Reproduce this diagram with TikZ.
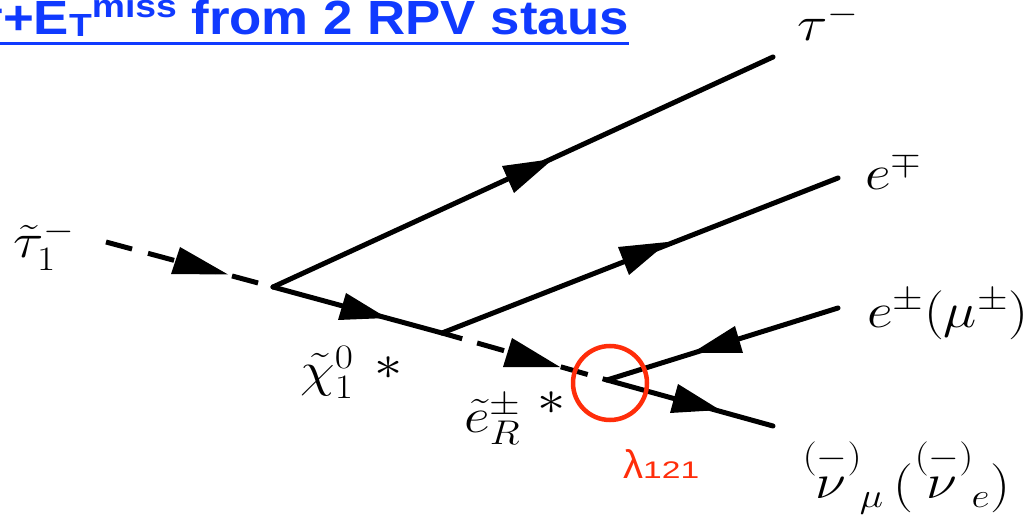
\RequirePackage{fix-cm}
\documentclass[tikz,border=0pt]{standalone}
\usepackage{graphicx}
\usepackage{fontspec}
\newfontfamily\titlesans{Liberation Sans}
\definecolor{titleblue}{RGB}{16,58,255}
\definecolor{rpvred}{RGB}{255,45,10}
\newcommand{\widetext}[1]{\scalebox{1.15}[1]{#1}}
\newcommand{\titlescript}[1]{\scalebox{1.06}[1]{\fontsize{32}{34}\selectfont #1}}
\tikzset{
  fermion/.style={line width=5pt, line cap=round},
  scalar/.style={line width=5pt, dash pattern=on 27pt off 16.5pt},
  arrowhead/.style={fill=black, draw=none},
  lbl/.style={inner sep=0pt, anchor=base west, font=\fontsize{49}{54}\selectfont},
}
\begin{document}
\begin{tikzpicture}[x=1pt,y=-1pt]
\useasboundingbox (0,0) rectangle (1031,521);
\clip (0,0) rectangle (1031,521);

% title
\node[anchor=base east, inner sep=0pt, text=titleblue,
      font=\titlesans\bfseries\fontsize{48}{52}\selectfont] (title) at (629,35)
  {\scalebox{1.1}[1]{τ+E\raisebox{-2pt}{\titlescript{T}}\raisebox{17pt}{\titlescript{miss}} from 2 RPV staus}};
\coordinate (ulA) at (0,44);
\draw[titleblue, line width=3pt] (ulA) -- (ulA -| title.east);

% vertices and end points
\coordinate (S0) at (106,242);
\coordinate (V1) at (273,287);
\coordinate (V2) at (442,333);
\coordinate (V3) at (607,380);
\coordinate (T)  at (773,57);
\coordinate (E1) at (838,178);
\coordinate (E2) at (838,308);
\coordinate (N)  at (773,426);

% lines
\draw[scalar] (S0) -- (V1);
\draw[fermion] (V1) -- (T);
\draw[fermion] (V1) -- (V2);
\draw[fermion] (V2) -- (E1);
\draw[line width=5pt, dash pattern=on 28pt off 15.5pt, dash phase=7pt] (V2) -- (V3);
\draw[fermion] (E2) -- (V3);
\draw[fermion] (V3) -- (N);

% arrowheads
\fill[arrowhead] (171,274) -- (180,247) -- (228,274.5) -- cycle;
\fill[arrowhead] (502,166) -- (514,193) -- (553,159) -- cycle;
\fill[arrowhead] (618,247) -- (629,275) -- (668,242) -- cycle;
\fill[arrowhead] (338,320) -- (346,293) -- (387,318) -- cycle;
\fill[arrowhead] (503,367) -- (512,338) -- (560,367) -- cycle;
\fill[arrowhead] (692,353) -- (735,326) -- (743,353) -- cycle;
\fill[arrowhead] (670,413) -- (678,384) -- (720,410) -- cycle;

% RPV vertex circle
\node[circle, draw=rpvred, line width=4.5pt, minimum size=74pt, inner sep=0pt] (rpv) at (610,383) {};

% labels
\node[lbl] (lstau) at (13,258) {\widetext{$\tilde{\tau}_1^-$}};
\node[lbl] (ltau) at (797,41) {\widetext{$\tau^-$}};
\node[lbl] (le1) at (865,190) {\widetext{$e^\mp$}};
\node[lbl] (le2) at (867,327) {\widetext{$e^\pm(\mu^\pm)$}};
\node[lbl] (lnu) at (801,500) {\widetext{$\mathord{\stackrel{(-)}{\nu}}_{\mu}\,(\mathord{\stackrel{(-)}{\nu}}_{e})$}};
\node[lbl] (lchi) at (300,386) {\widetext{$\tilde{\chi}^0_1$\hspace{0.38em}\raisebox{6.5pt}{$\ast$}}};
\node[lbl] (lsel) at (464,432) {\widetext{$\tilde{e}^\pm_R$\hspace{0.3em}\raisebox{18pt}{$\ast$}}};
\node[inner sep=0pt, anchor=base west, text=rpvred, font=\titlesans] (llam) at (623,478)
  {{\fontsize{40}{42}\selectfont λ}\scalebox{1.4}[1]{\fontsize{24}{26}\selectfont 121}};
\end{tikzpicture}
\end{document}
